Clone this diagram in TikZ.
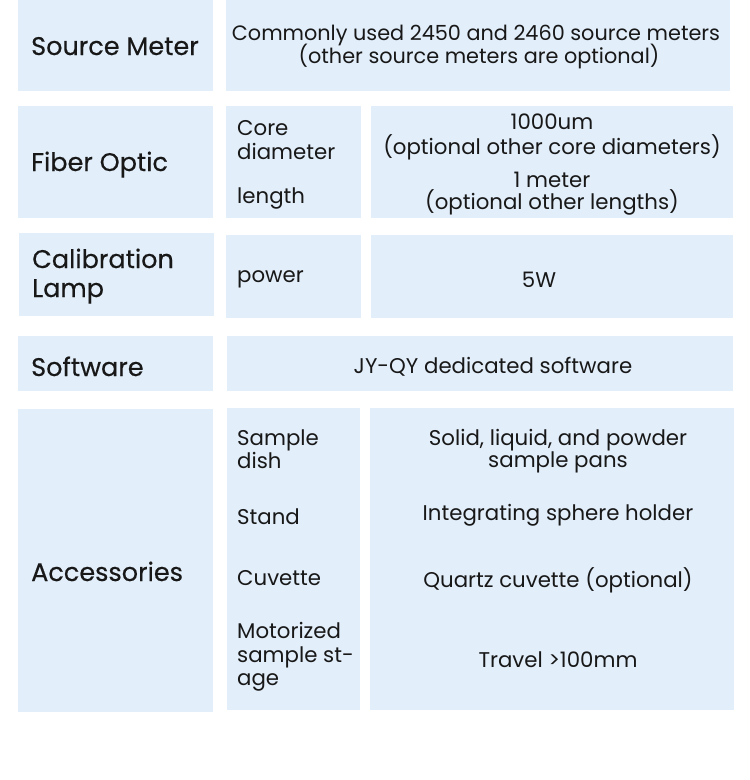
\documentclass[tikz,border=0pt]{standalone}
\usepackage{fontspec}
\setmainfont{Poppins}
\newfontfamily\titlefont{Poppins}[FakeBold=0.4]
\definecolor{cellblue}{RGB}{226,238,250}
\definecolor{ink}{RGB}{24,24,24}
\begin{document}
\begin{tikzpicture}[x=1pt,y=-1pt,
  cell/.style={fill=cellblue, draw=none, inner sep=0pt, anchor=north west},
  ttl/.style={font=\titlefont\fontsize{25.5}{30}\selectfont, text=ink, anchor=base west, inner sep=0pt},
  lbl/.style={font=\fontsize{21.3}{25}\selectfont, text=ink, anchor=base west, inner sep=0pt},
  val/.style={font=\fontsize{21.3}{25}\selectfont, text=ink, anchor=base, inner sep=0pt},
  valsm/.style={val, font=\fontsize{20.8}{25}\selectfont},
]
\useasboundingbox (0,0) rectangle (750,780);
% cells
\node[cell, minimum width=195pt, minimum height=91pt] (c1l) at (18,0) {};
\node[cell, minimum width=504pt, minimum height=91pt] (c1r) at (226,0) {};
\node[cell, minimum width=195pt, minimum height=112pt] (c2l) at (18,106) {};
\node[cell, minimum width=135pt, minimum height=112pt] (c2m) at (226,106) {};
\node[cell, minimum width=362pt, minimum height=112pt] (c2r) at (371,106) {};
\node[cell, minimum width=195pt, minimum height=83pt] (c3l) at (19,233) {};
\node[cell, minimum width=135pt, minimum height=83pt] (c3m) at (226,235) {};
\node[cell, minimum width=362pt, minimum height=83pt] (c3r) at (371,235) {};
\node[cell, minimum width=195pt, minimum height=55pt] (c4l) at (18,336) {};
\node[cell, minimum width=506pt, minimum height=55pt] (c4r) at (227,336) {};
\node[cell, minimum width=195pt, minimum height=303pt] (c5l) at (18,409) {};
\node[cell, minimum width=133pt, minimum height=302pt] (c5m) at (227,408) {};
\node[cell, minimum width=364pt, minimum height=302pt] (c5r) at (370,408) {};
% row 1
\node[ttl] (t1) at (31,55) {Source Meter};
\node[valsm] (v1a) at (476,40) {Commonly used 2450 and 2460 source meters};
\node[valsm] (v1b) at (479,63) {(other source meters are optional)};
% row 2
\node[ttl] (t2) at (31,171) {Fiber Optic};
\node[lbl] (l2a) at (237,135) {Core};
\node[lbl] (l2b) at (237,159) {diameter};
\node[lbl] (l2c) at (237,203) {length};
\node[val] (v2a) at (552,129) {1000um};
\node[val] (v2b) at (552,154) {(optional other core diameters)};
\node[val] (v2c) at (552,187) {1 meter};
\node[val] (v2d) at (552,209) {(optional other lengths)};
% row 3
\node[ttl] (t3a) at (32,268) {Calibration};
\node[ttl] (t3b) at (32,297) {Lamp};
\node[lbl] (l3) at (237,282) {power};
\node[val] (v3) at (539,287) {5W};
% row 4
\node[ttl] (t4) at (31,376) {Software};
\node[val] (v4) at (493,373) {JY-QY dedicated software};
% row 5
\node[ttl] (t5) at (31,581) {Accessories};
\node[lbl] (l5a) at (237,445) {Sample};
\node[lbl] (l5b) at (237,468) {dish};
\node[lbl] (l5c) at (237,524) {Stand};
\node[lbl] (l5d) at (237,585) {Cuvette};
\node[lbl] (l5e) at (237,638) {Motorized};
\node[lbl] (l5f) at (237,662) {sample st-};
\node[lbl] (l5g) at (237,685) {age};
\node[val] (v5a) at (558,445) {Solid, liquid, and powder};
\node[val] (v5b) at (558,467) {sample pans};
\node[val] (v5c) at (558,520) {Integrating sphere holder};
\node[val] (v5d) at (558,587) {Quartz cuvette (optional)};
\node[val] (v5e) at (558,667) {Travel >100mm};
\end{tikzpicture}
\end{document}
